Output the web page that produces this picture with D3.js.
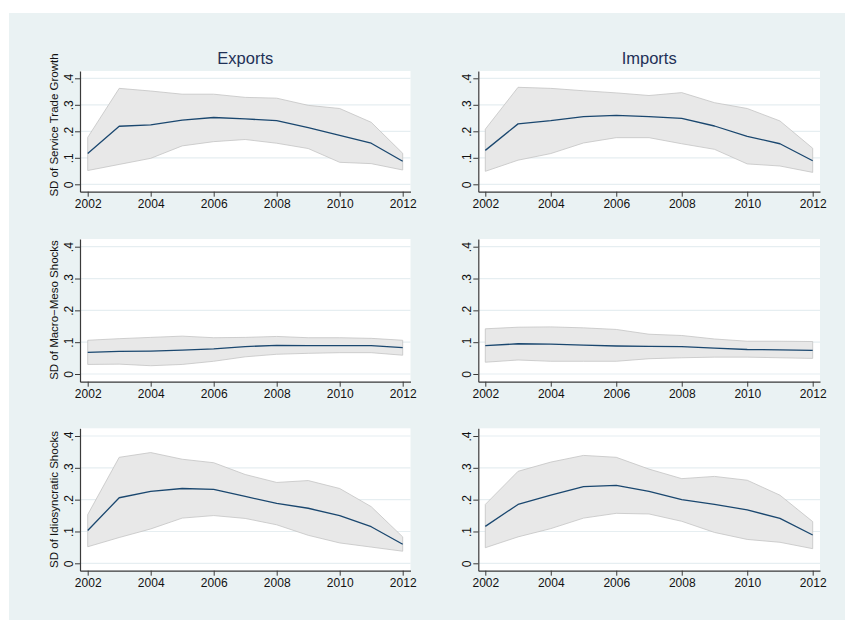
<!DOCTYPE html>
<html>
<head>
<meta charset="utf-8">
<script src="https://cdn.jsdelivr.net/npm/d3@7"></script>
<style>
  html, body { margin: 0; padding: 0; background: #ffffff; }
  svg { display: block; font-family: "Liberation Sans", Arial, sans-serif; }
</style>
</head>
<body>
<svg id="chart" width="845" height="620"></svg>
<script>
// ---------------- data ----------------
const years = [2002, 2003, 2004, 2005, 2006, 2007, 2008, 2009, 2010, 2011, 2012];
const xTicks = [2002, 2004, 2006, 2008, 2010, 2012];
const yTicks = [0, 0.1, 0.2, 0.3, 0.4];
const yTickLabels = ["0", ".1", ".2", ".3", ".4"];
const colTitles = ["Exports", "Imports"];
const rowTitles = ["SD of Service Trade Growth", "SD of Macro\u2212Meso Shocks", "SD of Idiosyncratic Shocks"];

// Row 1: SD of service trade growth
const expTradeMean = [0.116, 0.219, 0.224, 0.242, 0.252, 0.247, 0.240, 0.214, 0.185, 0.155, 0.087];
const expTradeUp   = [0.177, 0.362, 0.352, 0.340, 0.340, 0.328, 0.325, 0.298, 0.286, 0.234, 0.117];
const expTradeLo   = [0.052, 0.075, 0.098, 0.145, 0.161, 0.169, 0.155, 0.135, 0.083, 0.078, 0.054];
const impTradeMean = [0.128, 0.228, 0.240, 0.255, 0.260, 0.255, 0.249, 0.220, 0.181, 0.153, 0.089];
const impTradeUp   = [0.208, 0.366, 0.362, 0.353, 0.345, 0.335, 0.346, 0.308, 0.286, 0.239, 0.136];
const impTradeLo   = [0.049, 0.091, 0.116, 0.156, 0.176, 0.176, 0.153, 0.132, 0.077, 0.069, 0.045];

// Row 2: SD of macro-meso shocks
const expMacroMean = [0.068, 0.071, 0.072, 0.075, 0.079, 0.086, 0.090, 0.089, 0.089, 0.089, 0.083];
const expMacroUp   = [0.106, 0.111, 0.115, 0.119, 0.114, 0.115, 0.118, 0.114, 0.114, 0.112, 0.106];
const expMacroLo   = [0.030, 0.031, 0.026, 0.030, 0.040, 0.054, 0.062, 0.065, 0.067, 0.067, 0.059];
const impMacroMean = [0.089, 0.095, 0.094, 0.091, 0.088, 0.087, 0.086, 0.081, 0.077, 0.076, 0.074];
const impMacroUp   = [0.142, 0.147, 0.148, 0.145, 0.140, 0.125, 0.121, 0.110, 0.103, 0.103, 0.102];
const impMacroLo   = [0.037, 0.044, 0.040, 0.040, 0.040, 0.048, 0.051, 0.053, 0.053, 0.051, 0.049];

// Row 3: SD of idiosyncratic shocks
const expIdioMean = [0.103, 0.206, 0.226, 0.235, 0.232, 0.210, 0.188, 0.173, 0.150, 0.115, 0.060];
const expIdioUp   = [0.153, 0.333, 0.348, 0.327, 0.316, 0.279, 0.254, 0.260, 0.235, 0.178, 0.083];
const expIdioLo   = [0.052, 0.081, 0.108, 0.142, 0.150, 0.141, 0.121, 0.088, 0.064, 0.051, 0.038];
const impIdioMean = [0.116, 0.185, 0.214, 0.241, 0.245, 0.226, 0.200, 0.185, 0.168, 0.141, 0.089];
const impIdioUp   = [0.185, 0.289, 0.318, 0.339, 0.333, 0.296, 0.266, 0.273, 0.261, 0.214, 0.131];
const impIdioLo   = [0.049, 0.083, 0.109, 0.142, 0.157, 0.155, 0.132, 0.097, 0.075, 0.066, 0.046];

const panels = [
  { row: 0, col: 0, mean: expTradeMean, up: expTradeUp, lo: expTradeLo },
  { row: 0, col: 1, mean: impTradeMean, up: impTradeUp, lo: impTradeLo },
  { row: 1, col: 0, mean: expMacroMean, up: expMacroUp, lo: expMacroLo },
  { row: 1, col: 1, mean: impMacroMean, up: impMacroUp, lo: impMacroLo },
  { row: 2, col: 0, mean: expIdioMean, up: expIdioUp, lo: expIdioLo },
  { row: 2, col: 1, mean: impIdioMean, up: impIdioUp, lo: impIdioLo }
];

// ---------------- layout ----------------
const cols = [
  { x0: 80, x1: 410.5, a: 87.7, b: 402.7, labelX: 53.5 },
  { x0: 478.3, x1: 820, a: 485.3, b: 812.7 }
];
const rows = [
  { top: 71, bottom: 191.7, v0: 184.3, v4: 78.3, titleCenter: 125 },
  { top: 239, bottom: 381.7, v0: 374, v4: 246.7, titleCenter: 310 },
  { top: 428.3, bottom: 570.7, v0: 563.3, v4: 436, titleCenter: 499.5 }
];

const C = {
  bg: "#EAF2F3",
  plot: "#FFFFFF",
  grid: "#E6EEF1",
  band: "#E8E8E8",
  bandEdge: "#C4C4C4",
  line: "#1A476F",
  axis: "#3A3A3A",
  text: "#111111",
  title: "#1F3157"
};

const svg = d3.select("#chart");

svg.append("rect")
  .attr("x", 9).attr("y", 13)
  .attr("width", 845 - 9).attr("height", 620 - 13)
  .attr("fill", C.bg);

// column titles
colTitles.forEach((t, i) => {
  const c = cols[i];
  svg.append("text")
    .attr("x", (c.x0 + c.x1) / 2)
    .attr("y", 64)
    .attr("text-anchor", "middle")
    .attr("font-size", 16.5)
    .attr("fill", C.title)
    .text(t);
});

panels.forEach(p => {
  const c = cols[p.col];
  const r = rows[p.row];

  const x0 = d3.scaleLinear().domain([2002, 2012]).range([c.a, c.b]);
  const y0 = d3.scaleLinear().domain([0, 0.4]).range([r.v0, r.v4]);
  const x = d3.scaleLinear().domain([x0.invert(c.x0), x0.invert(c.x1)]).range([c.x0, c.x1]);
  const y = d3.scaleLinear().domain([y0.invert(r.bottom), y0.invert(r.top)]).range([r.bottom, r.top]);

  const g = svg.append("g");

  // plot region
  g.append("rect")
    .attr("x", c.x0).attr("y", r.top)
    .attr("width", c.x1 - c.x0).attr("height", r.bottom - r.top)
    .attr("fill", C.plot);

  // gridlines
  g.selectAll("line.grid").data(yTicks).enter().append("line")
    .attr("class", "grid")
    .attr("x1", c.x0).attr("x2", c.x1)
    .attr("y1", d => y(d)).attr("y2", d => y(d))
    .attr("stroke", C.grid).attr("stroke-width", 1.2);

  const idx = d3.range(years.length);

  // confidence band
  const area = d3.area()
    .x(i => x(years[i]))
    .y0(i => y(p.lo[i]))
    .y1(i => y(p.up[i]));
  g.append("path")
    .datum(idx)
    .attr("d", area)
    .attr("fill", C.band)
    .attr("stroke", C.bandEdge)
    .attr("stroke-width", 0.8)
    .attr("stroke-linejoin", "round");

  // mean line
  const line = d3.line()
    .x(i => x(years[i]))
    .y(i => y(p.mean[i]));
  g.append("path")
    .datum(idx)
    .attr("d", line)
    .attr("fill", "none")
    .attr("stroke", C.line)
    .attr("stroke-width", 1.3)
    .attr("stroke-linejoin", "round");

  // x axis
  const xAxis = d3.axisBottom(x)
    .tickValues(xTicks)
    .tickFormat(d3.format("d"))
    .tickSize(5)
    .tickSizeOuter(0)
    .tickPadding(3);
  const gx = g.append("g")
    .attr("transform", `translate(0,${r.bottom})`)
    .call(xAxis);
  gx.select(".domain").attr("stroke", C.axis).attr("stroke-width", 1.2);
  gx.selectAll(".tick line").attr("stroke", C.axis).attr("stroke-width", 1);
  gx.selectAll(".tick text")
    .attr("font-size", 12)
    .attr("font-family", "Liberation Sans, Arial, sans-serif")
    .attr("fill", C.text);

  // y axis
  const yAxis = d3.axisLeft(y)
    .tickValues(yTicks)
    .tickFormat((d, i) => yTickLabels[i])
    .tickSize(5)
    .tickSizeOuter(0);
  const gy = g.append("g")
    .attr("transform", `translate(${c.x0},0)`)
    .call(yAxis);
  gy.select(".domain").attr("stroke", C.axis).attr("stroke-width", 1.2);
  gy.selectAll(".tick line").attr("stroke", C.axis).attr("stroke-width", 1);
  gy.selectAll(".tick text")
    .attr("font-size", 12)
    .attr("font-family", "Liberation Sans, Arial, sans-serif")
    .attr("fill", C.text)
    .attr("text-anchor", "middle")
    .attr("x", 0)
    .attr("dy", null)
    .attr("y", -7.5)
    .attr("transform", "rotate(-90)");

  // row axis title (left column only)
  if (p.col === 0) {
    svg.append("text")
      .attr("transform", `translate(${c.labelX + 4},${r.titleCenter}) rotate(-90)`)
      .attr("text-anchor", "middle")
      .attr("font-size", 11.5)
      .attr("fill", C.text)
      .text(rowTitles[p.row]);
  }
});
</script>
</body>
</html>
